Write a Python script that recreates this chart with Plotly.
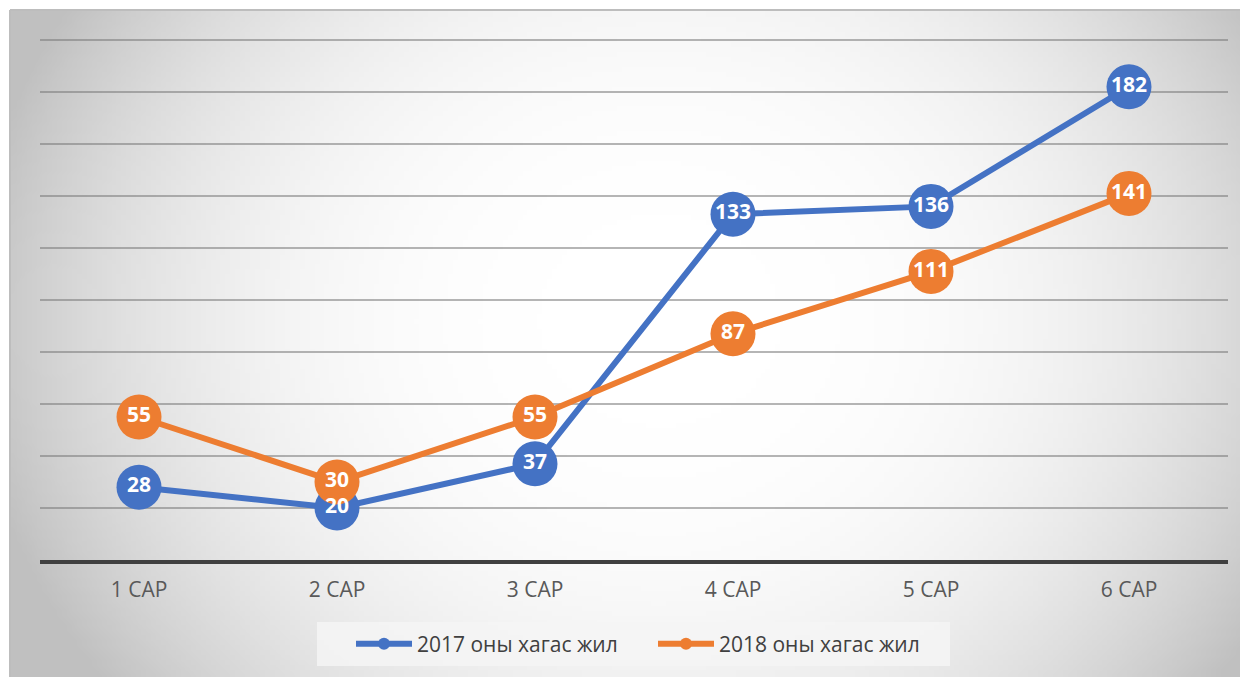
import base64, struct, zlib, math
import plotly.graph_objects as go

categories = ["1 САР", "2 САР", "3 САР", "4 САР", "5 САР", "6 САР"]
series_2017 = [28, 20, 37, 133, 136, 182]
series_2018 = [55, 30, 55, 87, 111, 141]
name_2017 = "2017 оны хагас жил"
name_2018 = "2018 оны хагас жил"

BLUE = "#4472C4"
ORANGE = "#ED7D31"
FONT = "Open Sans"

# page has an 8px body margin, so figure coordinates = screen - 8
OFF = 8
W, H = 1240, 669
L, R, T, B = 32, 20, 19, 117
PW, PH = W - L - R, H - T - B
Y_TOP = 205

# ---- radial gradient background (decoration) ----
def png_gray(w, h, fn):
    raw = bytearray()
    for j in range(h):
        raw.append(0)
        for i in range(w):
            raw.append(fn(i, j))
    def chunk(t, d):
        c = struct.pack(">I", len(d)) + t + d
        return c + struct.pack(">I", zlib.crc32(t + d) & 0xffffffff)
    sig = b"\x89PNG\r\n\x1a\n"
    ihdr = struct.pack(">IIBBBBB", w, h, 8, 0, 0, 0, 0)
    return sig + chunk(b"IHDR", ihdr) + chunk(b"IDAT", zlib.compress(bytes(raw), 9)) + chunk(b"IEND", b"")

FX0, FY0, FX1, FY1 = 10 - OFF, 10 - OFF, W, H
GW, GH = 250, 135
CX, CY = 660 - OFF, 320 - OFF

def shade(i, j):
    x = FX0 + (i + 0.5) * (FX1 - FX0) / GW
    y = FY0 + (j + 0.5) * (FY1 - FY0) / GH
    d = math.hypot((x - CX) / 680.0, (y - CY) / 600.0)
    d = min(d, 1.02)
    v = 255 - 60 * (d ** 2.8)
    return max(0, min(255, int(round(v))))

img = "data:image/png;base64," + base64.b64encode(png_gray(GW, GH, shade)).decode()

def px_to_paper_x(px):
    return (px - L) / PW

def px_to_paper_y(py):
    return (H - B - py) / PH

fig = go.Figure()

series = [(name_2017, series_2017, BLUE), (name_2018, series_2018, ORANGE)]

# lines + markers
for name, vals, col in series:
    fig.add_trace(go.Scatter(
        x=categories, y=vals, name=name, mode="lines+markers",
        line=dict(color=col, width=6), marker=dict(color=col, size=45),
        cliponaxis=False, showlegend=False))

# data labels drawn above all markers
for name, vals, col in series:
    fig.add_trace(go.Scatter(
        x=categories, y=vals, name=name, mode="text",
        text=[str(v) for v in vals], textposition="middle center",
        textfont=dict(family=FONT, size=21, color="white", weight="bold"),
        cliponaxis=False, showlegend=False, hoverinfo="skip"))

# legend-only entries
for name, vals, col in series:
    fig.add_trace(go.Scatter(x=[None], y=[None], name=name, mode="lines+markers",
                             line=dict(color=col, width=6), marker=dict(color=col, size=12)))

LEG_X0, LEG_X1, LEG_Y0, LEG_Y1 = 317 - OFF, 950 - OFF, 622 - OFF, 666 - OFF

fig.update_layout(
    width=W, height=H,
    margin=dict(l=L, r=R, t=T, b=B, pad=0),
    paper_bgcolor="white",
    plot_bgcolor="rgba(0,0,0,0)",
    font=dict(family=FONT, color="#595959"),
    images=[dict(source=img, xref="paper", yref="paper",
                 x=px_to_paper_x(FX0), y=px_to_paper_y(FY0),
                 sizex=(FX1 - FX0) / PW, sizey=(FY1 - FY0) / PH,
                 xanchor="left", yanchor="top", sizing="stretch", layer="below")],
    shapes=[
        dict(type="line", xref="paper", yref="paper",
             x0=px_to_paper_x(FX0), x1=px_to_paper_x(FX1), y0=px_to_paper_y(FY0), y1=px_to_paper_y(FY0),
             line=dict(color="#bdbdbd", width=2), layer="below"),
        dict(type="line", xref="paper", yref="paper",
             x0=px_to_paper_x(FX0), x1=px_to_paper_x(FX0), y0=px_to_paper_y(FY0), y1=px_to_paper_y(FY1),
             line=dict(color="#bdbdbd", width=2), layer="below"),
        dict(type="rect", xref="paper", yref="paper",
             x0=px_to_paper_x(LEG_X0), x1=px_to_paper_x(LEG_X1),
             y0=px_to_paper_y(LEG_Y1), y1=px_to_paper_y(LEG_Y0),
             fillcolor="rgba(244,244,244,0.85)", line=dict(width=0), layer="below"),
    ],
    legend=dict(orientation="h", x=px_to_paper_x(351 - OFF), xanchor="left",
                y=px_to_paper_y(644 - OFF), yanchor="middle",
                bgcolor="rgba(0,0,0,0)",
                font=dict(family=FONT, size=21, color="#404040"),
                entrywidth=231, itemwidth=56),
    xaxis=dict(showgrid=False, showline=True, linecolor="#404040", linewidth=3.5,
               ticks="", tickfont=dict(family=FONT, size=21, color="#595959"),
               ticklabelstandoff=8, range=[-0.5, 5.5], zeroline=False),
    yaxis=dict(range=[0, Y_TOP], dtick=20, showticklabels=False, showgrid=True,
               gridcolor="rgba(120,120,120,0.55)", gridwidth=1.5, zeroline=False,
               showline=False, ticks=""),
)

fig.write_html("out.html")
